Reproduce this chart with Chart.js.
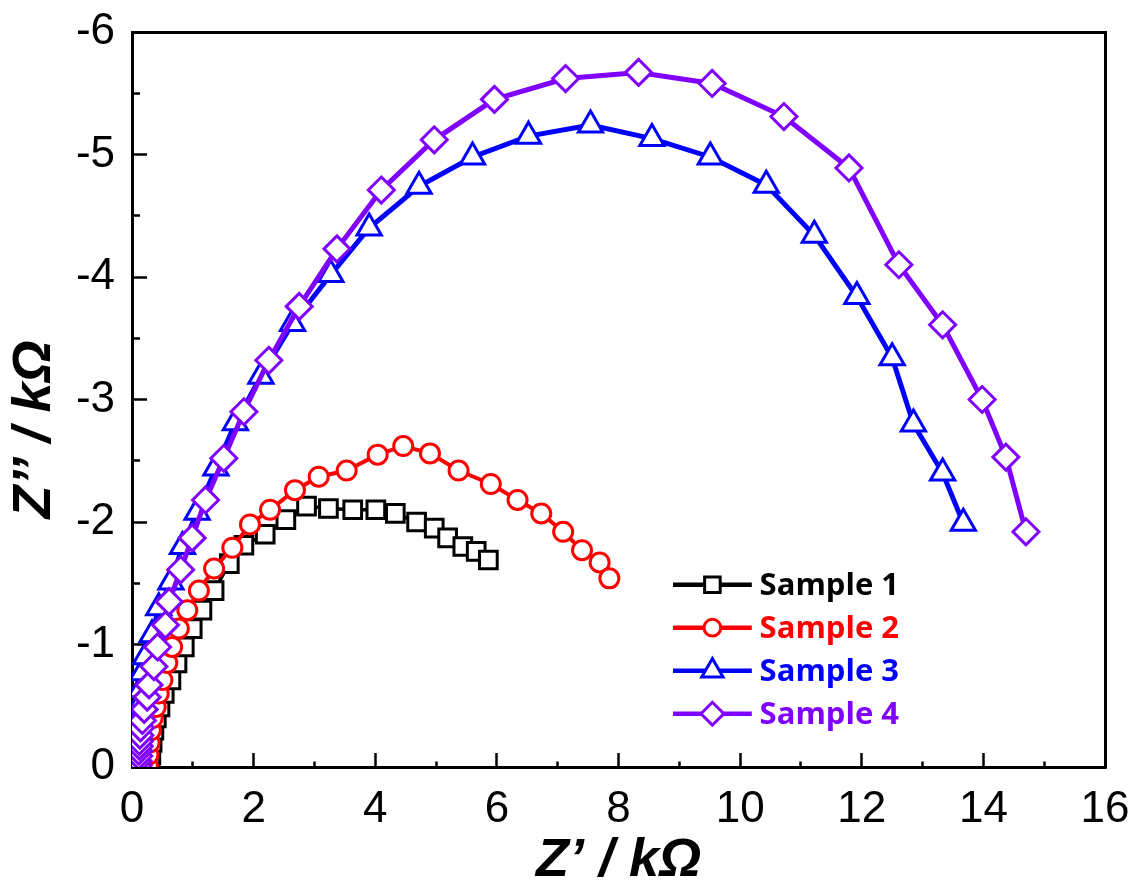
<!DOCTYPE html>
<html>
<head>
<meta charset="utf-8">
<script src="https://cdn.jsdelivr.net/npm/chart.js@4.4.1/dist/chart.umd.min.js"></script>
<style>
html,body{margin:0;padding:0;background:#fff;}
#wrap{width:1136px;height:888px;position:relative;}
</style>
</head>
<body>
<div id="wrap"><canvas id="c" width="1136" height="888"></canvas></div>
<script>
// ---------- data (Z' in kOhm, Z'' in kOhm) ----------
const seriesNames = ['Sample 1', 'Sample 2', 'Sample 3', 'Sample 4'];

const s1x = [0.30, 0.31, 0.33, 0.36, 0.40, 0.46, 0.53, 0.64, 0.74, 0.86, 0.99, 1.15, 1.35, 1.60, 1.84, 2.19, 2.53, 2.87, 3.23, 3.63, 4.01, 4.33, 4.68, 4.97, 5.19, 5.44, 5.66, 5.86];
const s1y = [-0.01, -0.10, -0.20, -0.30, -0.40, -0.49, -0.60, -0.71, -0.85, -0.98, -1.13, -1.28, -1.44, -1.66, -1.81, -1.90, -2.02, -2.13, -2.11, -2.10, -2.10, -2.07, -2.00, -1.95, -1.87, -1.80, -1.76, -1.69];

const s2x = [0.26, 0.27, 0.29, 0.31, 0.34, 0.39, 0.44, 0.50, 0.58, 0.66, 0.77, 0.91, 1.10, 1.35, 1.65, 1.94, 2.27, 2.68, 3.07, 3.53, 4.04, 4.46, 4.90, 5.37, 5.90, 6.34, 6.73, 7.09, 7.40, 7.69, 7.85];
const s2y = [-0.01, -0.10, -0.20, -0.30, -0.40, -0.49, -0.60, -0.71, -0.85, -0.98, -1.13, -1.28, -1.44, -1.62, -1.79, -1.98, -2.10, -2.26, -2.37, -2.42, -2.55, -2.62, -2.56, -2.42, -2.31, -2.18, -2.07, -1.92, -1.77, -1.67, -1.54];

const s3x = [0.09, 0.09, 0.10, 0.10, 0.11, 0.12, 0.14, 0.17, 0.22, 0.33, 0.44, 0.64, 0.83, 1.07, 1.38, 1.70, 2.12, 2.64, 3.27, 3.90, 4.72, 5.60, 6.52, 7.54, 8.55, 9.51, 10.43, 11.22, 11.92, 12.50, 12.85, 13.33, 13.67];
const s3y = [-0.01, -0.10, -0.20, -0.30, -0.40, -0.50, -0.63, -0.77, -0.90, -1.08, -1.30, -1.51, -1.80, -2.08, -2.44, -2.81, -3.19, -3.62, -4.02, -4.40, -4.74, -4.98, -5.15, -5.24, -5.13, -4.98, -4.75, -4.34, -3.84, -3.34, -2.80, -2.40, -1.99];

const s4x = [0.10, 0.10, 0.11, 0.11, 0.12, 0.12, 0.13, 0.14, 0.17, 0.20, 0.25, 0.28, 0.36, 0.42, 0.55, 0.61, 0.80, 0.99, 1.21, 1.51, 1.84, 2.25, 2.75, 3.37, 4.10, 4.97, 5.96, 7.13, 8.33, 9.54, 10.72, 11.79, 12.61, 13.33, 13.98, 14.37, 14.70];
const s4y = [-0.01, -0.05, -0.09, -0.13, -0.17, -0.21, -0.26, -0.32, -0.38, -0.47, -0.57, -0.67, -0.82, -0.98, -1.16, -1.35, -1.61, -1.87, -2.18, -2.52, -2.90, -3.32, -3.76, -4.23, -4.71, -5.12, -5.45, -5.62, -5.67, -5.58, -5.31, -4.89, -4.10, -3.61, -3.00, -2.53, -1.92];

const xTickLabels = [0, 2, 4, 6, 8, 10, 12, 14, 16];
const yTickLabels = [0, -1, -2, -3, -4, -5, -6];
const xTitle = 'Z’ / kΩ';
const yTitle = 'Z’’ / kΩ    ';

// ---------- styles ----------
const xs = [s1x, s2x, s3x, s4x];
const ys = [s1y, s2y, s3y, s4y];
const colors = ['#000000', '#ff0000', '#0000ff', '#8000ff'];
const styles = ['rect', 'circle', 'triangle', 'rectRot'];
const radii = [12.5, 9.5, 14, 13];
const lineWidths = [3.5, 4, 5, 5];

const axisFont = {family: '"Liberation Sans", Arial, sans-serif', size: 44};
const titleFont = {family: '"Liberation Sans", Arial, sans-serif', size: 54, weight: 'bold', style: 'italic', lineHeight: 1};

const datasets = seriesNames.map((name, i) => ({
  label: name,
  data: xs[i].map((x, j) => ({x: x, y: ys[i][j]})),
  showLine: true,
  borderColor: colors[i],
  backgroundColor: '#ffffff',
  borderWidth: lineWidths[i],
  pointStyle: styles[i],
  pointRadius: radii[i],
  pointBorderWidth: 3,
  pointBackgroundColor: '#ffffff',
  pointBorderColor: colors[i],
  order: 4 - i,
  tension: 0
}));

const legendPlugin = {
  id: 'sampleLegend',
  afterDraw(chart) {
    const ctx = chart.ctx, a = chart.chartArea;
    const fx = v => a.left + v * (a.right - a.left);
    const fy = v => a.top + v * (a.bottom - a.top);
    const x0 = fx(0.556), x1 = fx(0.637), tx = fx(0.645);
    const y0 = fy(0.752), dy = (a.bottom - a.top) * 0.0585;
    chart.data.datasets.forEach((ds, i) => {
      const y = y0 + i * dy;
      ctx.save();
      ctx.strokeStyle = ds.borderColor;
      ctx.lineWidth = 4.5;
      ctx.beginPath(); ctx.moveTo(x0, y); ctx.lineTo(x1, y); ctx.stroke();
      ctx.fillStyle = '#ffffff';
      ctx.strokeStyle = ds.borderColor;
      ctx.lineWidth = 3;
      const cx = (x0 + x1) / 2;
      if (Chart.helpers && Chart.helpers.drawPoint) {
        Chart.helpers.drawPoint(ctx, {pointStyle: ds.pointStyle, radius: ds.pointRadius * 0.88, borderWidth: 3, rotation: 0}, cx, y);
      } else {
        ctx.beginPath(); ctx.arc(cx, y, 9, 0, Math.PI * 2); ctx.fill(); ctx.stroke();
      }
      ctx.fillStyle = ds.borderColor;
      ctx.font = 'bold 31px "Open Sans", "Noto Sans", sans-serif';
      ctx.textBaseline = 'middle';
      ctx.textAlign = 'left';
      ctx.fillText(ds.label, tx, y + 1);
      ctx.restore();
    });
  }
};

new Chart(document.getElementById('c'), {
  type: 'scatter',
  data: {datasets: datasets},
  options: {
    responsive: false,
    animation: false,
    events: [],
    layout: {padding: {left: 0, right: 31, top: 32, bottom: 0}},
    plugins: {legend: {display: false}, tooltip: {enabled: false}},
    scales: {
      x: {
        type: 'linear', position: 'bottom', min: 0, max: 16,
        ticks: {
          stepSize: 1, autoSkip: false, maxRotation: 0, minRotation: 0, padding: 30, color: '#000', font: axisFont,
          callback: v => xTickLabels.includes(v) ? String(v) : ''
        },
        grid: {
          drawOnChartArea: false, tickLength: -14, tickWidth: 2.5, tickColor: '#000',
          tickBorderDash: c => (c.tick && xTickLabels.includes(c.tick.value)) ? [] : [7.5, 100]
        },
        border: {display: true, color: '#000', width: 3},
        title: {display: true, text: xTitle, color: '#000', font: titleFont, padding: {top: 0, bottom: 0}},
        afterFit: s => { s.height = 121; s.paddingLeft = 0; s.paddingRight = 0; }
      },
      y: {
        type: 'linear', position: 'left', min: -6, max: 0, reverse: true,
        ticks: {
          stepSize: 0.5, autoSkip: false, padding: 32, color: '#000', font: axisFont,
          callback: v => yTickLabels.includes(v) ? String(v) : ''
        },
        grid: {
          drawOnChartArea: false, tickLength: -15, tickWidth: 2.5, tickColor: '#000',
          tickBorderDash: c => (c.tick && yTickLabels.includes(c.tick.value)) ? [] : [0, 7, 9.5, 100]
        },
        border: {display: true, color: '#000', width: 3},
        title: {display: true, text: yTitle, color: '#000', font: titleFont, padding: {top: 8, bottom: 0}},
        afterFit: s => { s.width = 132; s.paddingTop = 0; s.paddingBottom = 0; }
      },
      xTop: {
        type: 'linear', position: 'top', min: 0, max: 16,
        ticks: {display: false},
        grid: {drawOnChartArea: false, drawTicks: false},
        border: {display: true, color: '#000', width: 3},
        afterFit: s => { s.height = 0; s.paddingLeft = 0; s.paddingRight = 0; }
      },
      yRight: {
        type: 'linear', position: 'right', min: -6, max: 0, reverse: true,
        ticks: {display: false},
        grid: {drawOnChartArea: false, drawTicks: false},
        border: {display: true, color: '#000', width: 3},
        afterFit: s => { s.width = 0; s.paddingTop = 0; s.paddingBottom = 0; }
      }
    }
  },
  plugins: [legendPlugin]
});
</script>
</body>
</html>
